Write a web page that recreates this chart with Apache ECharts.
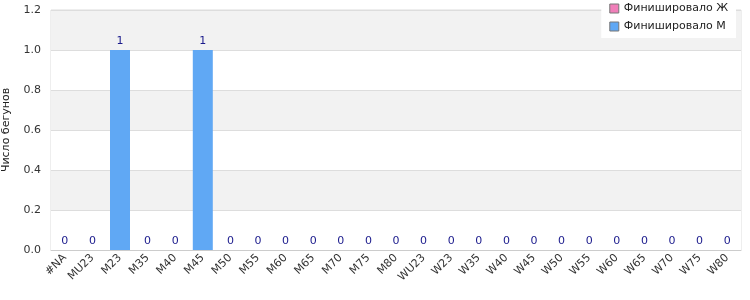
<!DOCTYPE html>
<html><head><meta charset="utf-8">
<script src="https://cdn.jsdelivr.net/npm/echarts@6/dist/echarts.min.js"></script>
<style>html,body{margin:0;padding:0;background:#fff}#c{width:750px;height:300px}</style>
</head><body><div id="c"></div>
<script>
const categories = ['#NA','MU23','M23','M35','M40','M45','M50','M55','M60','M65','M70','M75','M80','WU23','W23','W35','W40','W45','W50','W55','W60','W65','W70','W75','W80'];
const finishedF = [0,0,0,0,0,0,0,0,0,0,0,0,0,0,0,0,0,0,0,0,0,0,0,0,0];
const finishedM = [0,0,1,0,0,1,0,0,0,0,0,0,0,0,0,0,0,0,0,0,0,0,0,0,0];
const yTicks = {min:0, max:1.2, interval:0.2};

const chart = echarts.init(document.getElementById('c'), null, {renderer:'canvas'});
chart.setOption({
  animation:false,
  textStyle:{fontFamily:'DejaVu Sans'},
  grid:{left:51, right:9, top:10, bottom:50, show:true, borderColor:'#dddddd', borderWidth:1, backgroundColor:'transparent', containLabel:false, outerBoundsMode:'none'},
  legend:{
    orient:'vertical', right:14, top:0, itemWidth:9, itemHeight:9, itemGap:7, icon:'rect',
    backgroundColor:'#ffffff', padding:[3,8,6,8],
    textStyle:{fontSize:11, color:'#222'},
    data:[{name:'Финишировало Ж', itemStyle:{borderColor:'#777',borderWidth:1}},{name:'Финишировало М', itemStyle:{borderColor:'#777',borderWidth:1}}]
  },
  xAxis:{
    type:'category', data:categories,
    axisLine:{lineStyle:{color:'#cccccc'}}, axisTick:{show:false},
    axisLabel:{rotate:45, interval:0, fontSize:11, color:'#333', margin:6}
  },
  yAxis:{
    type:'value', min:yTicks.min, max:yTicks.max, interval:yTicks.interval,
    name:'Число бегунов', nameLocation:'middle', nameGap:39, nameRotate:90,
    nameTextStyle:{fontSize:11, color:'#222'},
    axisLabel:{formatter:v=>v.toFixed(1), fontSize:11, color:'#333', margin:10},
    axisLine:{show:false}, axisTick:{show:false},
    splitLine:{lineStyle:{color:'#dddddd'}},
    splitArea:{show:true, areaStyle:{color:['#ffffff','#f2f2f2']}}
  },
  series:[
    {name:'Финишировало Ж', type:'bar', stack:'s', data:finishedF, barWidth:20,
     itemStyle:{color:'#f07fb9'}},
    {name:'Финишировало М', type:'bar', stack:'s', data:finishedM, barWidth:20,
     itemStyle:{color:'#60a8f4'},
     label:{show:true, position:'top', color:'#1a1a8c', fontSize:11, distance:3}}
  ]
});
</script></body></html>
